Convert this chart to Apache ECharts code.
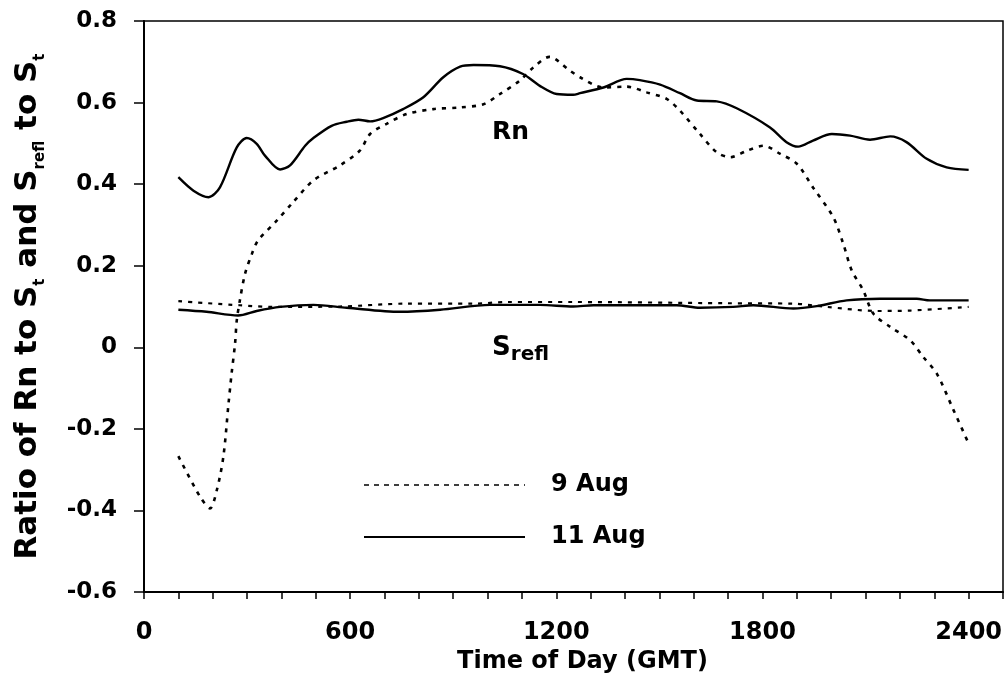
<!DOCTYPE html>
<html>
<head>
<meta charset="utf-8">
<script src="https://cdn.jsdelivr.net/npm/echarts@6/dist/echarts.min.js"></script>
<style>
html,body{margin:0;padding:0;background:#fff;}
#chart{width:1008px;height:699px;}
</style>
</head>
<body>
<div id="chart"></div>
<script>
// ---- data (time in GMT hhmm-like units, ratio values) ----
const rn9Time = [100,163,192,212,231,246,255,265,270,279,294,314,332,387,430,493,570,628,658,706,765,842,920,988,1036,1094,1133,1180,1240,1269,1337,1405,1463,1521,1560,1618,1667,1706,1755,1803,1852,1900,1947,2006,2035,2060,2093,2123,2172,2230,2268,2307,2356,2400];
const rn9Val  = [-0.267,-0.366,-0.395,-0.350,-0.268,-0.138,-0.064,0.009,0.066,0.115,0.180,0.229,0.262,0.311,0.352,0.409,0.446,0.482,0.523,0.548,0.572,0.584,0.588,0.596,0.621,0.654,0.686,0.712,0.678,0.662,0.637,0.639,0.625,0.609,0.580,0.523,0.478,0.466,0.482,0.494,0.474,0.450,0.392,0.319,0.254,0.188,0.140,0.082,0.050,0.017,-0.024,-0.064,-0.154,-0.236];

const rn11Time = [100,144,188,221,270,299,328,352,396,425,469,493,546,590,624,658,696,754,813,871,920,959,1036,1103,1152,1201,1249,1269,1337,1405,1443,1502,1560,1609,1667,1725,1822,1870,1904,1947,2002,2055,2113,2172,2219,2278,2336,2400];
const rn11Val  = [0.417,0.384,0.368,0.392,0.490,0.513,0.499,0.470,0.436,0.446,0.494,0.513,0.543,0.553,0.558,0.554,0.562,0.584,0.613,0.662,0.688,0.692,0.689,0.670,0.641,0.621,0.619,0.623,0.637,0.658,0.655,0.644,0.623,0.605,0.603,0.586,0.539,0.503,0.492,0.507,0.523,0.519,0.509,0.517,0.503,0.462,0.441,0.435];

const sr9Time = [100,279,375,570,765,959,1056,1249,1695,1890,1987,2133,2230,2400];
const sr9Val  = [0.113,0.103,0.099,0.100,0.107,0.107,0.111,0.111,0.108,0.107,0.099,0.089,0.090,0.099];

const sr11Time = [100,182,274,328,396,493,590,745,862,1007,1152,1249,1308,1550,1618,1715,1773,1890,1958,2045,2142,2249,2287,2400];
const sr11Val  = [0.092,0.087,0.078,0.089,0.099,0.104,0.097,0.087,0.092,0.104,0.104,0.100,0.103,0.103,0.097,0.099,0.103,0.095,0.101,0.115,0.119,0.119,0.115,0.115];

const seriesNames = ['9 Aug', '11 Aug'];
const xLabelStep = 600;
const yTicks = [-0.6, -0.4, -0.2, 0, 0.2, 0.4, 0.6, 0.8];
const annotationText = ['Rn', 'Srefl'];
// annotation anchor points (in data units)
const annotationAnchor = [[1013, 0.526], [1013, -0.002]];

// ---- helpers ----
const zip = (t, v) => t.map((x, i) => [x, v[i]]);
const FONT = '"DejaVu Sans", "Liberation Sans", sans-serif';
const txt = (size) => ({ fontFamily: FONT, fontWeight: 'bold', fontSize: size, color: '#000' });

const chart = echarts.init(document.getElementById('chart'), null, { renderer: 'canvas' });

const dash9Rn = [4, 6];
const dash9Sr = [4, 6];
const hiddenSymbol = { color: 'rgba(0,0,0,0)', borderWidth: 0, opacity: 0 };

const option = {
  animation: false,
  backgroundColor: '#fff',
  color: ['#000'],
  grid: { left: 144, right: 5, top: 21, bottom: 107, show: true, borderColor: '#000', borderWidth: 1.5, backgroundColor: 'transparent' },
  legend: {
    orient: 'vertical',
    left: 363,
    top: 473,
    padding: 0,
    itemWidth: 161,
    itemHeight: 24,
    itemGap: 28,
    selectedMode: false,
    itemStyle: hiddenSymbol,
    data: [
      { name: seriesNames[0], itemStyle: hiddenSymbol, lineStyle: { type: [5, 5], width: 1.5, color: '#000' } },
      { name: seriesNames[1], itemStyle: hiddenSymbol, lineStyle: { type: 'solid', width: 2, color: '#000' } }
    ],
    textStyle: Object.assign(txt(24), { padding: [0, 0, 0, 21] })
  },
  xAxis: {
    type: 'value',
    min: 0,
    max: 2500,
    interval: 100,
    name: 'Time of Day (GMT)',
    nameLocation: 'middle',
    nameGap: 56,
    nameTextStyle: Object.assign(txt(24), { padding: [0, 0, 0, 18] }),
    axisLine: { show: true, onZero: false, lineStyle: { color: '#000', width: 2 } },
    axisTick: { show: true, length: 7, lineStyle: { color: '#000', width: 1.5 } },
    axisLabel: Object.assign(txt(24), {
      margin: 29,
      formatter: v => (Math.round(v) % xLabelStep === 0 ? String(Math.round(v)) : '')
    }),
    splitLine: { show: false }
  },
  yAxis: {
    type: 'value',
    min: yTicks[0],
    max: yTicks[yTicks.length - 1],
    interval: 0.2,
    name: '{m|Ratio of Rn to S}{s|t}{m| and S}{s|refl}{m| to S}{s|t}',
    nameLocation: 'middle',
    nameGap: 96,
    nameRotate: 90,
    nameTextStyle: {
      rich: {
        m: Object.assign(txt(31), { lineHeight: 40 }),
        s: Object.assign(txt(15), { lineHeight: 16, verticalAlign: 'bottom' })
      }
    },
    axisLine: { show: true, onZero: false, lineStyle: { color: '#000', width: 2 } },
    axisTick: { show: true, length: 10, lineStyle: { color: '#000', width: 1.5 } },
    axisLabel: Object.assign(txt(23), {
      margin: 27,
      formatter: v => String(Math.round(v * 10) / 10)
    }),
    splitLine: { show: false }
  },
  series: [
    {
      name: seriesNames[0], type: 'line', data: zip(rn9Time, rn9Val),
      symbol: 'none', smooth: 0.3, itemStyle: { color: '#000' },
      lineStyle: { color: '#000', width: 2.6, type: dash9Rn }
    },
    {
      name: seriesNames[1], type: 'line', data: zip(rn11Time, rn11Val),
      symbol: 'none', smooth: 0.3, itemStyle: { color: '#000' },
      lineStyle: { color: '#000', width: 2.4, type: 'solid' }
    },
    {
      name: seriesNames[0], type: 'line', data: zip(sr9Time, sr9Val),
      symbol: 'none', smooth: 0.3, itemStyle: { color: '#000' },
      lineStyle: { color: '#000', width: 2.2, type: dash9Sr }
    },
    {
      name: seriesNames[1], type: 'line', data: zip(sr11Time, sr11Val),
      symbol: 'none', smooth: 0.3, itemStyle: { color: '#000' },
      lineStyle: { color: '#000', width: 2.4, type: 'solid' }
    },
    {
      name: 'annotations', type: 'scatter', symbolSize: 0, silent: true,
      itemStyle: { color: '#000', opacity: 1 },
      data: annotationAnchor.map((p, i) => ({ value: p, name: annotationText[i] })),
      label: {
        show: true, position: 'right', distance: 0, color: '#000', opacity: 1,
        formatter: p => p.name === 'Srefl' ? '{S|S}{sub|refl}' : '{R|' + p.name + '}',
        rich: {
          R: Object.assign(txt(25), { lineHeight: 30 }),
          S: Object.assign(txt(26), { lineHeight: 34 }),
          sub: Object.assign(txt(20), { lineHeight: 20, verticalAlign: 'bottom' })
        }
      }
    }
  ]
};

chart.setOption(option);
</script>
</body>
</html>
